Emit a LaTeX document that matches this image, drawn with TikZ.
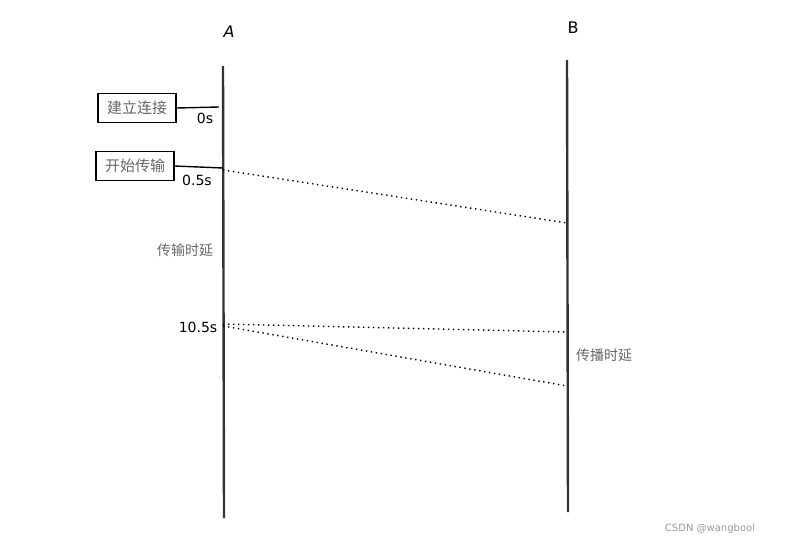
\documentclass[tikz,border=0pt]{standalone}
\usepackage{fontspec}
\setmainfont{DejaVu Sans}
\newfontfamily\cjk{Noto Sans CJK SC}
\usepackage{tikz}
\usetikzlibrary{positioning, calc}
\usepackage{xcolor}
\definecolor{linegray}{HTML}{333333}
\definecolor{textgray}{HTML}{666666}
\definecolor{markgray}{HTML}{999999}

\begin{document}
\begin{tikzpicture}[x=1pt, y=-1pt,
    lifeline/.style={draw=linegray, line width=2.4pt},
    eventbox/.style={draw=black, line width=1.4pt, font=\cjk\fontsize{15}{18}\selectfont,
      text=textgray, minimum width=78pt, minimum height=29pt, inner sep=2pt},
    msg/.style={line width=1.4pt, dash pattern=on 1.4pt off 3.6pt, black},
    tick/.style={font=\fontsize{14}{16}\selectfont, text=black},
    delay/.style={font=\cjk\fontsize{14}{16}\selectfont, text=textgray}]
  \useasboundingbox (0,0) rectangle (794,546);

  % Lifelines
  \node[font=\fontsize{16}{18}\selectfont\itshape] (hostA) at (229,32) {A};
  \node[font=\fontsize{16}{18}\selectfont] (hostB) at (573,28) {B};
  \coordinate (aTop) at (223,66);
  \coordinate (aBot) at (224,518);
  \coordinate (bTop) at (567,60);
  \coordinate (bBot) at (568,512);
  \draw[lifeline] (aTop) -- (aBot);
  \draw[lifeline] (bTop) -- (bBot);

  % Events on A
  \node[eventbox] (connect) at (137,108) {建立连接};
  \coordinate (t0) at (219,107);
  \draw[line width=1.4pt] (connect.east) -- (t0);
  \node[tick] (lbl0) at (205,118) {0s};

  \node[eventbox] (send) at (135,166) {开始传输};
  \coordinate (t1) at (223,168);
  \draw[line width=1.4pt] (send.east) -- (t1);
  \node[tick] (lbl1) at (197,180) {0.5s};

  \node[delay] (transdelay) at (185,250) {传输时延};
  \node[tick] (lbl2) at (198,327) {10.5s};

  % Messages A -> B
  \coordinate (s1) at (223,170);
  \coordinate (r1) at (567,223);
  \coordinate (s2) at (223,324);
  \coordinate (r2) at (567,332);
  \coordinate (s3) at (223,326);
  \coordinate (r3) at (567,386);
  \draw[msg] (s1) -- (r1);
  \draw[msg] (s2) -- (r2);
  \draw[msg] (s3) -- (r3);

  \node[delay] (propdelay) at (604,355) {传播时延};

  % Watermark
  \node[font=\fontsize{10}{12}\selectfont, text=markgray] (mark) at (710,529) {CSDN @wangbool};
\end{tikzpicture}
\end{document}
